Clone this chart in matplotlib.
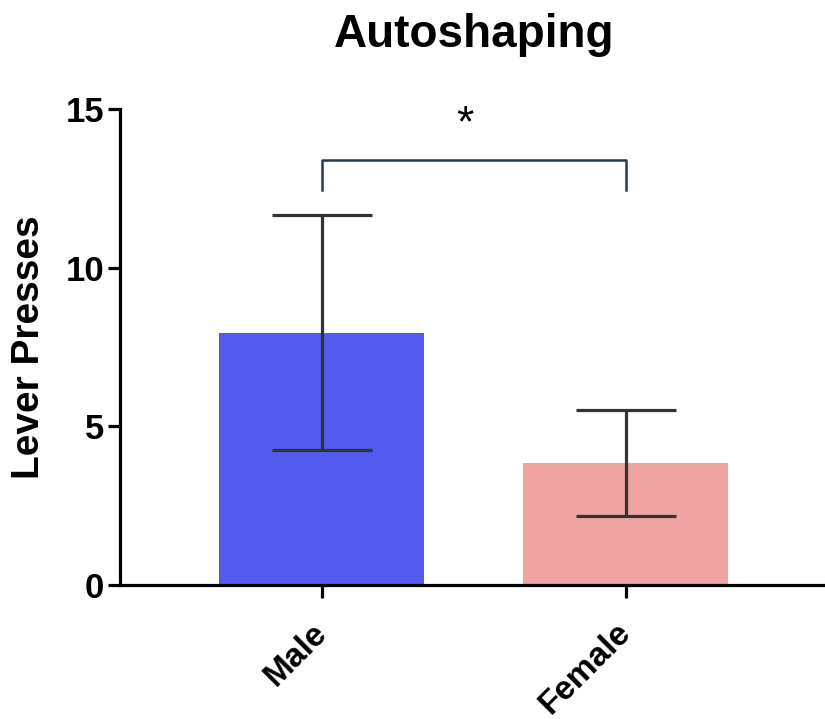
import matplotlib
matplotlib.use("Agg")
import matplotlib.pyplot as plt

plt.rcParams['font.family'] = ['Liberation Sans', 'DejaVu Sans']

groups = ['Male', 'Female']
means = [7.95, 3.85]
errors = [3.7, 1.67]
colors = ['#525BEE', '#F0A3A3']

# significance bracket
bracket_y = 13.4
bracket_drop = 0.95
star_y = 14.5

fig = plt.figure(figsize=(8.25, 7.19), dpi=100)
ax = fig.add_axes([0.1455, 0.1864, 0.8545, 0.662])

x = list(range(len(groups)))
ax.bar(x, means, width=0.674, color=colors, zorder=1)
ax.errorbar(x, means, yerr=errors, fmt='none', ecolor='#333333',
            elinewidth=2.3, capsize=36, capthick=2.3, zorder=2)

ax.plot([0, 0, 1, 1], [bracket_y - bracket_drop, bracket_y, bracket_y, bracket_y - bracket_drop],
        color='#2B3A4A', lw=1.8, solid_joinstyle='round')
ax.text(0.47, star_y, '*', ha='center', va='center', fontsize=32)

ax.set_xlim(-0.664, 1.655)
ax.set_ylim(0, 15)
ax.set_yticks([0, 5, 10, 15])
ax.set_xticks(x)
ax.set_xticklabels(groups, rotation=45, ha='right', va='center', rotation_mode='anchor',
                   fontsize=24, fontweight='bold')
for lab in ax.get_yticklabels():
    lab.set_fontsize(25)
    lab.set_fontweight('bold')

for s in ['top', 'right']:
    ax.spines[s].set_visible(False)
for s in ['left', 'bottom']:
    ax.spines[s].set_linewidth(2.3)
ax.tick_params(axis='both', width=2.3, length=9, pad=2.5)
ax.tick_params(axis='x', pad=22)

ax.set_ylabel('Lever Presses', fontsize=28, fontweight='bold', labelpad=13)
fig.text(0.575, 0.951, 'Autoshaping', ha='center', va='center',
         fontsize=33, fontweight='bold')

fig.savefig('out.png', dpi=100)
